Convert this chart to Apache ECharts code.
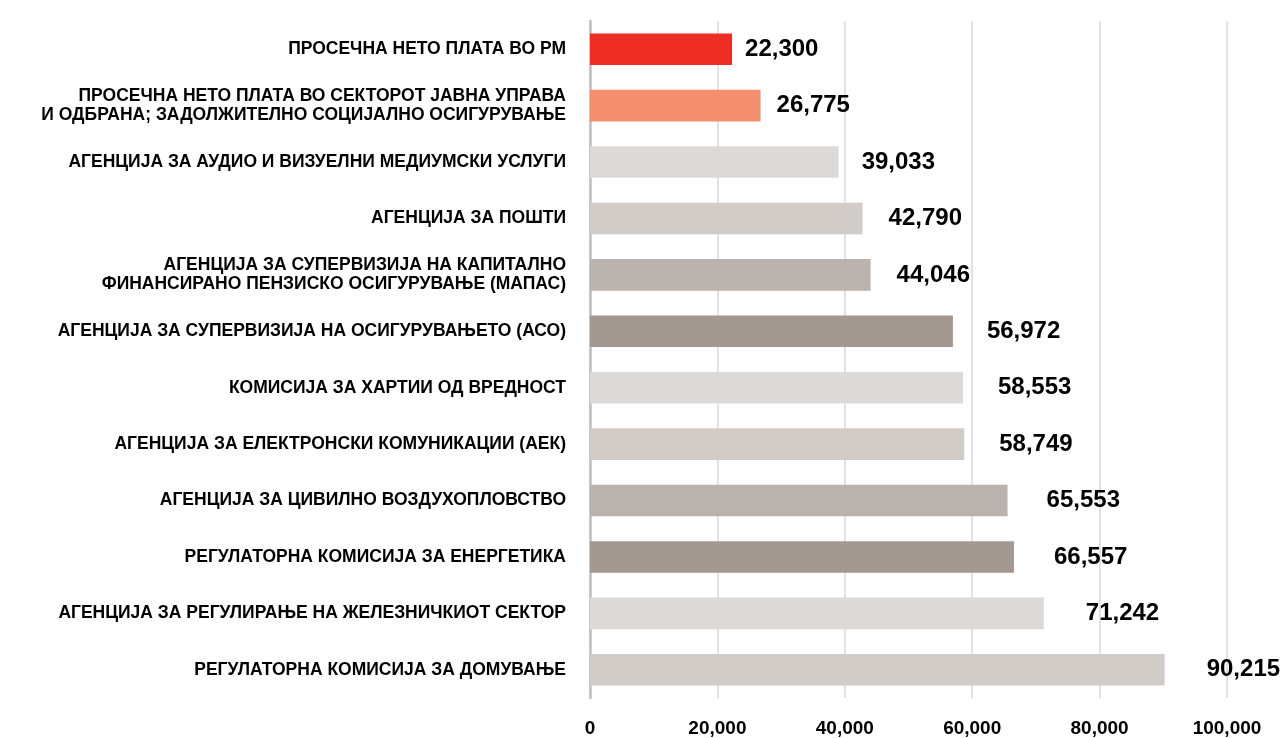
<!DOCTYPE html>
<html>
<head>
<meta charset="utf-8">
<script src="https://cdn.jsdelivr.net/npm/echarts@6/dist/echarts.min.js"></script>
<style>
  html, body { margin: 0; padding: 0; background: #fff; }
  #chart { width: 1280px; height: 738px; }
</style>
</head>
<body>
<div id="chart"></div>
<script>
// категории (одозгора надолу)
var categories = [
  "ПРОСЕЧНА НЕТО ПЛАТА ВО РМ",
  "ПРОСЕЧНА НЕТО ПЛАТА ВО СЕКТОРОТ ЈАВНА УПРАВА\nИ ОДБРАНА; ЗАДОЛЖИТЕЛНО СОЦИЈАЛНО ОСИГУРУВАЊЕ",
  "АГЕНЦИЈА ЗА АУДИО И ВИЗУЕЛНИ МЕДИУМСКИ УСЛУГИ",
  "АГЕНЦИЈА ЗА ПОШТИ",
  "АГЕНЦИЈА ЗА СУПЕРВИЗИЈА НА КАПИТАЛНО\nФИНАНСИРАНО ПЕНЗИСКО ОСИГУРУВАЊЕ (МАПАС)",
  "АГЕНЦИЈА ЗА СУПЕРВИЗИЈА НА ОСИГУРУВАЊЕТО (АСО)",
  "КОМИСИЈА ЗА ХАРТИИ ОД ВРЕДНОСТ",
  "АГЕНЦИЈА ЗА ЕЛЕКТРОНСКИ КОМУНИКАЦИИ (АЕК)",
  "АГЕНЦИЈА ЗА ЦИВИЛНО ВОЗДУХОПЛОВСТВО",
  "РЕГУЛАТОРНА КОМИСИЈА ЗА ЕНЕРГЕТИКА",
  "АГЕНЦИЈА ЗА РЕГУЛИРАЊЕ НА ЖЕЛЕЗНИЧКИОТ СЕКТОР",
  "РЕГУЛАТОРНА КОМИСИЈА ЗА ДОМУВАЊЕ"
];
var values = [22300, 26775, 39033, 42790, 44046, 56972, 58553, 58749, 65553, 66557, 71242, 90215];
var barColors = [
  "#EE2E24", "#F58F6F",
  "#DCD9D6", "#D1CCC8", "#BAB2AC", "#A39990",
  "#DCD9D6", "#D1CCC8", "#BAB2AC", "#A39990",
  "#DCD9D6", "#D1CCC8"
];

var chart = echarts.init(document.getElementById("chart"));
var fmt = function (v) {
  return String(v).replace(/\B(?=(\d{3})+(?!\d))/g, ",");
};

var seriesData = values.map(function (v, i) {
  return {
    value: v,
    itemStyle: { color: barColors[i] },
    // etiketite se oddalecuvaat so golemina na vrednosta (kako vo originalot)
    label: { distance: Math.min(42, Math.round(v * 0.0006)) }
  };
});

chart.setOption({
  animation: false,
  backgroundColor: "#ffffff",
  grid: {
    left: 590,
    right: 53,
    top: 21,
    bottom: 35
  },
  xAxis: {
    type: "value",
    min: 0,
    max: 100000,
    interval: 20000,
    axisLine: { show: false },
    axisTick: { show: false },
    splitLine: {
      show: true,
      lineStyle: { color: "#E2E2E2", width: 2 }
    },
    axisLabel: {
      margin: 21,
      color: "#000",
      fontFamily: "Liberation Sans",
      fontWeight: "bold",
      fontSize: 19,
      formatter: fmt
    }
  },
  yAxis: {
    type: "category",
    inverse: true,
    data: categories,
    axisLine: {
      show: true,
      lineStyle: { color: "#BFBFBF", width: 2.5 }
    },
    axisTick: { show: false },
    splitLine: { show: false },
    axisLabel: {
      margin: 24,
      color: "#000",
      fontFamily: "Liberation Sans",
      fontWeight: "bold",
      fontSize: 17.5,
      lineHeight: 19,
      align: "right"
    }
  },
  series: [
    {
      name: "плата",
      type: "bar",
      barWidth: "56%",
      data: seriesData,
      label: {
        show: true,
        position: "right",
        color: "#000",
        fontFamily: "Liberation Sans",
        fontWeight: "bold",
        fontSize: 24,
        formatter: function (p) { return fmt(p.value); }
      }
    }
  ]
});
</script>
</body>
</html>
